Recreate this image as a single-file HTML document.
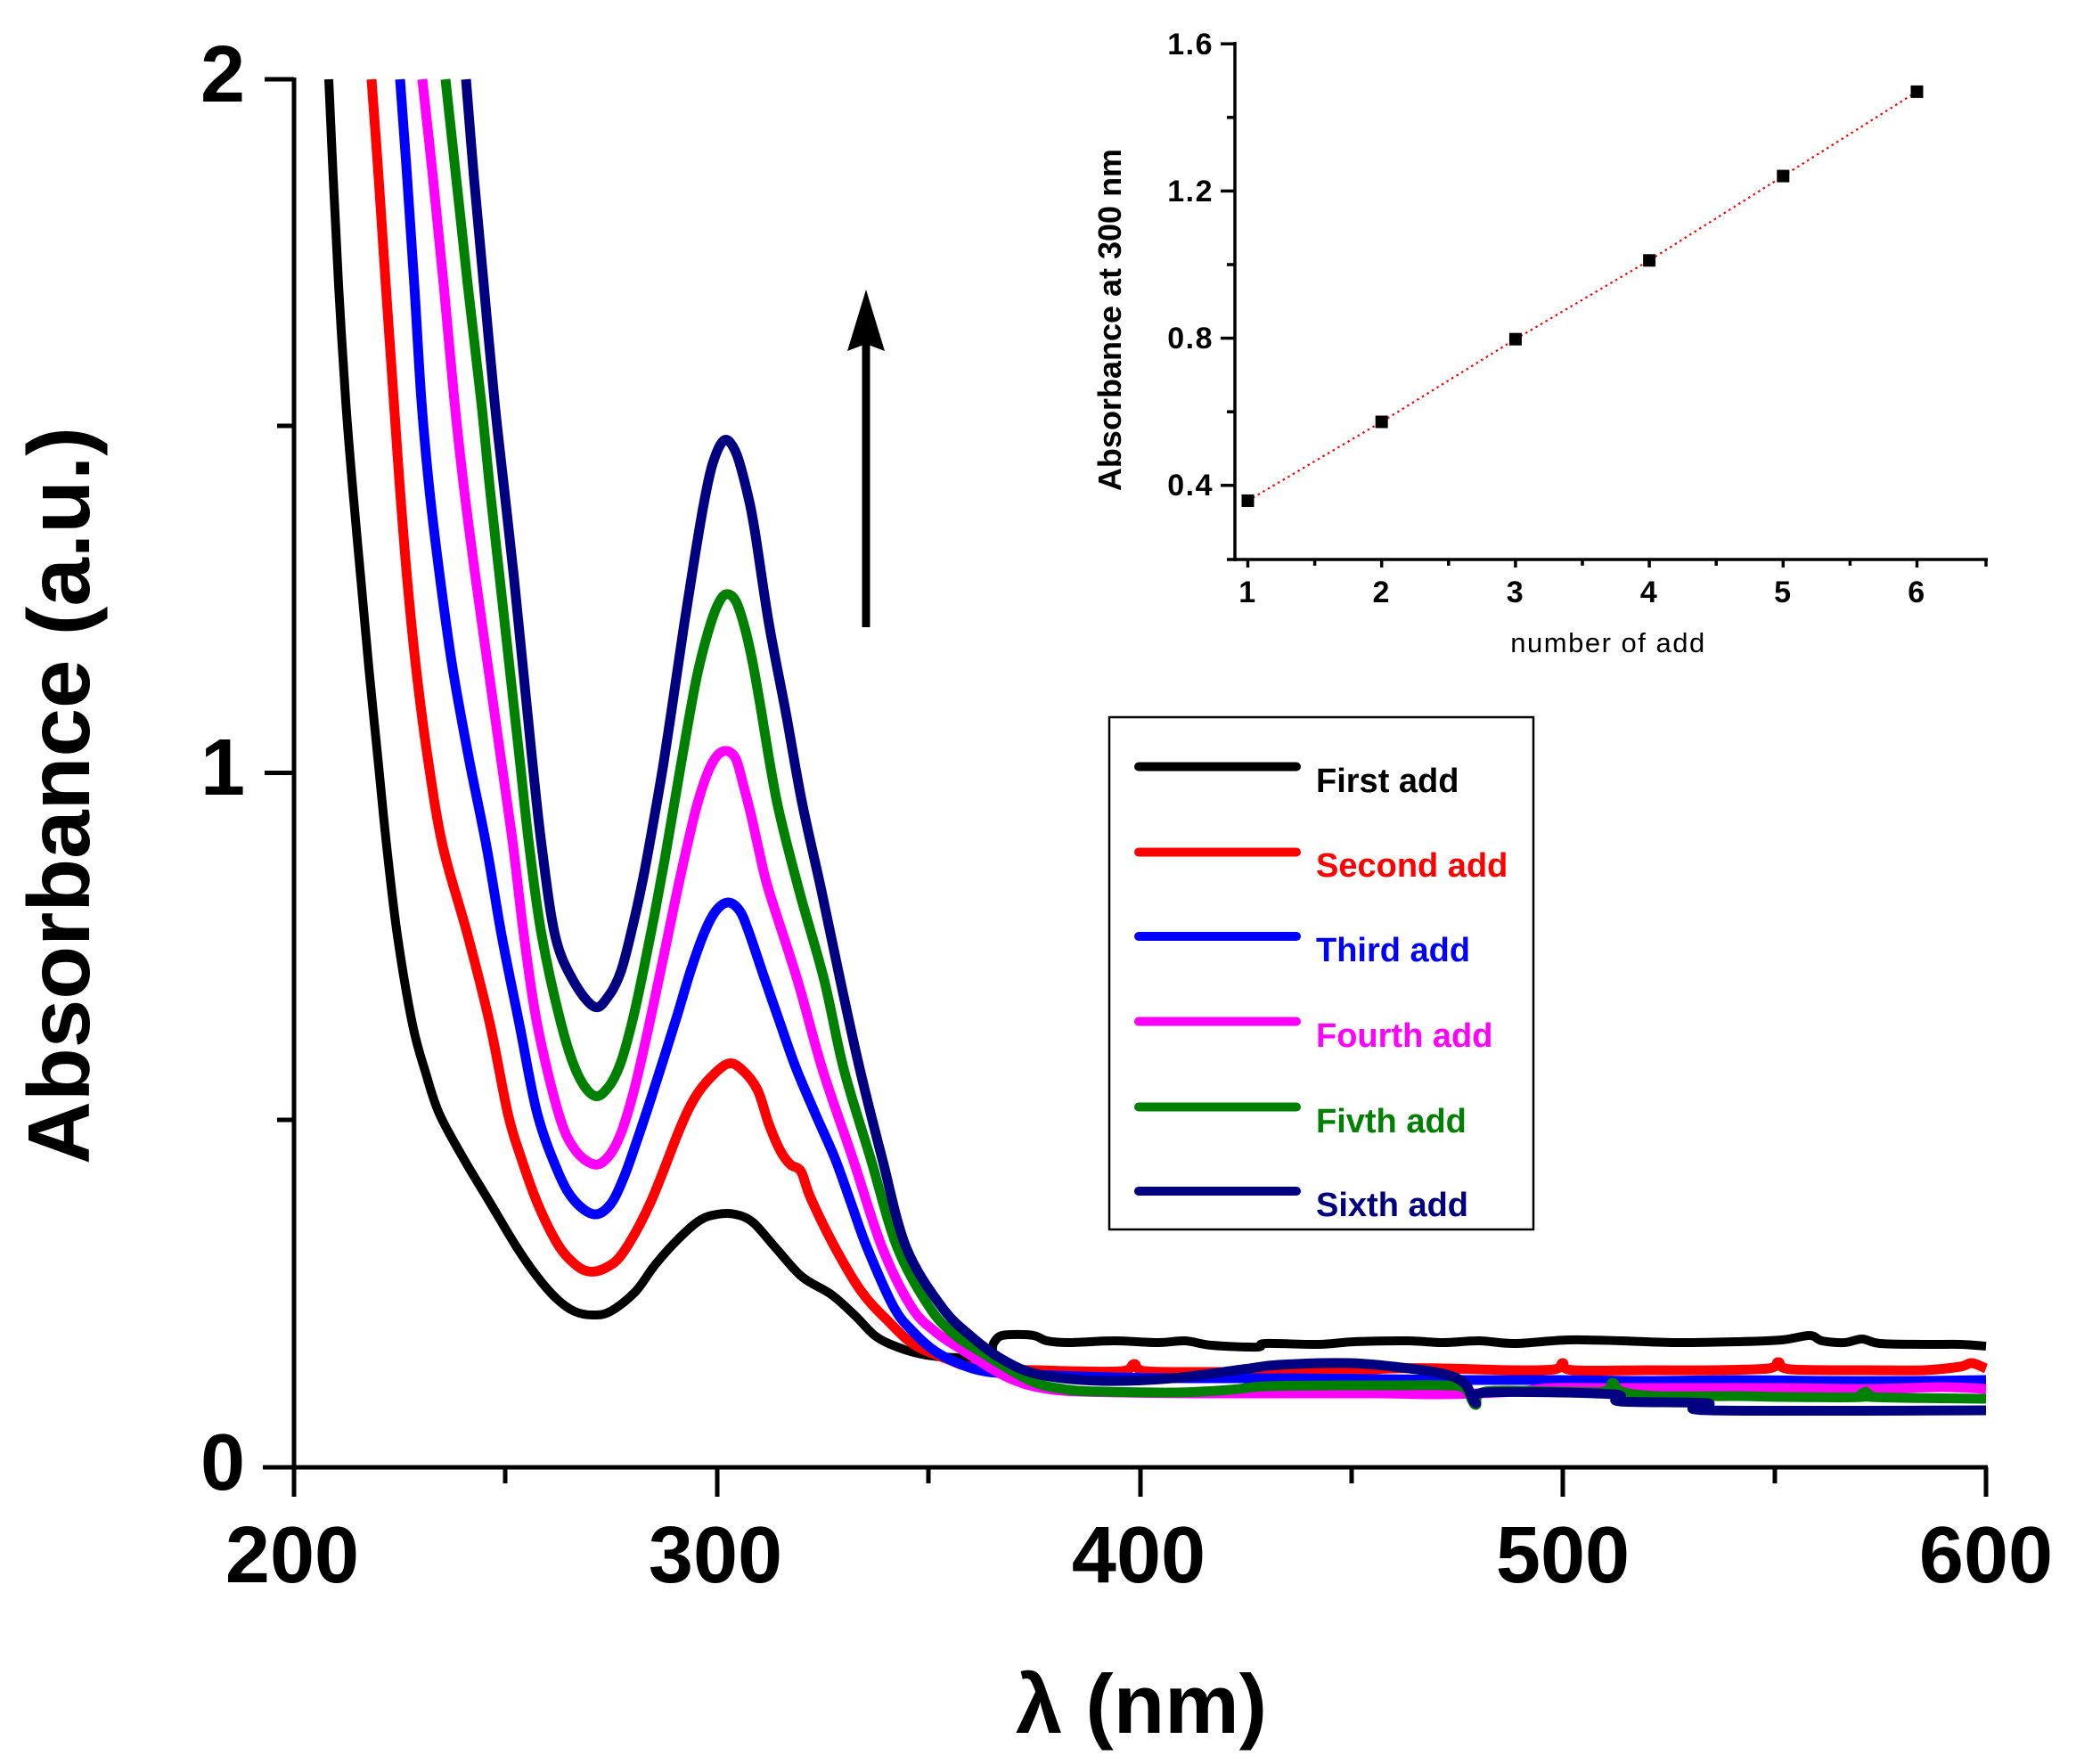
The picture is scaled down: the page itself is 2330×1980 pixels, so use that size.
<!DOCTYPE html>
<html><head><meta charset="utf-8"><style>
html,body{margin:0;padding:0;background:#fff;}
svg{display:block;}
text{font-family:"Liberation Sans",Arial,sans-serif;}
</style></head><body>
<svg id="chart" width="2330" height="1980" viewBox="0 0 2330 1980" xmlns="http://www.w3.org/2000/svg">
<rect width="2330" height="1980" fill="#fff"/>

<!-- curves -->
<g fill="none" stroke-linejoin="round" stroke-linecap="butt">
<polyline class="c" stroke="#000" stroke-width="10" points="369,89 374,200 380,320 388,450 396,550 405,650 414,750 424,850 434,950 446,1050 463,1150 478,1205 493,1250 520,1300 550,1350 580,1400 603,1433 625,1458 645,1472 665,1476 685,1472 713,1450 735,1420 760,1392 785,1370 805,1363 825,1363 845,1372 870,1400 900,1433 933,1453 960,1477 983,1500 1010,1513 1040,1521 1080,1524 1110,1521 1115,1508 1122,1500 1135,1498 1160,1499 1175,1505 1200,1507 1250,1505 1300,1507 1330,1505 1360,1510 1411,1512 1420,1508 1480,1509 1520,1506 1580,1505 1620,1507 1660,1505 1700,1508 1760,1504 1820,1505 1880,1507 1950,1506 2000,1504 2031,1499 2045,1505 2070,1507 2090,1503 2110,1508 2160,1509 2200,1509 2229,1511"/>
<polyline class="c" stroke="#ff0000" stroke-width="11" points="417,89 425,200 433,320 442,450 449,550 457,650 467,750 480,850 497,950 525,1050 550,1150 570,1250 585,1300 603,1350 625,1395 643,1417 660,1427 680,1423 700,1405 730,1350 763,1267 780,1232 797,1210 817,1194 832,1200 850,1223 863,1262 876,1292 887,1307 899,1315 910,1345 937,1400 967,1450 997,1483 1027,1510 1067,1527 1083,1533 1110,1537 1166,1538 1200,1539 1260,1539 1273,1531 1285,1539 1350,1540 1420,1540 1500,1540 1560,1536 1620,1536 1700,1538 1745,1537 1754,1530 1765,1538 1850,1538 1920,1538 1985,1536 1996,1529 2010,1537 2100,1538 2160,1538 2200,1534 2213,1530 2229,1536"/>
<polyline class="c" stroke="#0000ff" stroke-width="11" points="449,89 457,200 465,320 473,450 482,550 494,650 508,750 526,850 546,950 563,1050 583,1150 603,1250 627,1317 645,1348 667,1363 685,1352 700,1322 715,1280 730,1235 745,1188 760,1140 775,1090 790,1048 803,1023 817,1013 830,1022 840,1045 857,1095 875,1147 893,1198 915,1250 937,1300 955,1350 973,1400 1003,1467 1025,1495 1050,1517 1080,1532 1110,1540 1160,1543 1250,1546 1350,1547 1450,1547 1550,1548 1650,1549 1750,1549 1850,1550 1950,1549 2050,1550 2150,1550 2229,1549"/>
<polyline class="c" stroke="#ff00ff" stroke-width="11" points="474,89 486,200 498,320 510,450 521,550 534,650 548,750 562,850 576,950 588,1050 603,1150 627,1250 645,1290 667,1307 683,1298 697,1272 710,1230 722,1180 734,1125 746,1068 758,1010 770,955 782,905 794,868 805,848 816,843 826,852 834,880 843,915 853,960 863,1000 895,1100 923,1200 957,1300 990,1400 1023,1467 1050,1495 1083,1517 1133,1547 1183,1560 1260,1563 1350,1564 1450,1564 1550,1564 1620,1565 1700,1562 1742,1558 1800,1558 1900,1558 2000,1558 2100,1559 2180,1557 2229,1559"/>
<polyline class="c" stroke="#008000" stroke-width="11" points="500,89 512,200 525,320 540,450 550,550 561,650 572,750 583,850 594,950 608,1050 630,1150 648,1205 667,1230 683,1220 697,1192 710,1145 722,1090 734,1030 746,965 758,895 770,825 782,760 794,712 805,680 815,667 826,675 836,705 845,745 853,790 872,900 897,1000 925,1100 947,1200 977,1300 1007,1400 1043,1467 1070,1497 1100,1517 1157,1550 1200,1560 1240,1562 1320,1563 1380,1560 1420,1556 1500,1555 1560,1555 1620,1555 1644,1558 1656,1577 1667,1562 1750,1562 1800,1562 1810,1552 1820,1562 1860,1567 1950,1567 2000,1568 2090,1568 2094,1562 2100,1568 2229,1570"/>
<polyline class="c" stroke="#000080" stroke-width="11" points="523,89 532,200 543,320 555,450 566,550 577,650 587,750 597,850 608,950 623,1050 643,1100 667,1130 683,1118 697,1090 710,1040 722,985 733,925 745,855 757,775 768,700 779,630 790,565 800,520 813,494 826,508 838,550 847,595 863,700 882,800 900,900 922,1000 943,1100 965,1200 990,1300 1017,1400 1057,1467 1090,1500 1127,1527 1167,1543 1237,1550 1316,1547 1395,1537 1435,1532 1514,1530 1573,1535 1620,1542 1644,1553 1656,1575 1667,1563 1810,1565 1818,1573 1916,1575 1920,1583 2229,1583"/>
</g>

<!-- main axes -->
<g stroke="#000" stroke-width="5" fill="none">
<line x1="330" y1="87" x2="330" y2="1649"/>
<line x1="295" y1="1647" x2="2231" y2="1647"/>
<line x1="297" y1="89" x2="330" y2="89"/>
<line x1="297" y1="867.5" x2="330" y2="867.5"/>
<line x1="311" y1="478" x2="330" y2="478"/>
<line x1="311" y1="1257" x2="330" y2="1257"/>
<line x1="330" y1="1647" x2="330" y2="1680"/>
<line x1="805" y1="1647" x2="805" y2="1680"/>
<line x1="1280" y1="1647" x2="1280" y2="1680"/>
<line x1="1754" y1="1647" x2="1754" y2="1680"/>
<line x1="2229" y1="1647" x2="2229" y2="1680"/>
<line x1="567" y1="1647" x2="567" y2="1665"/>
<line x1="1042" y1="1647" x2="1042" y2="1665"/>
<line x1="1517" y1="1647" x2="1517" y2="1665"/>
<line x1="1992" y1="1647" x2="1992" y2="1665"/>
</g>
<g font-size="90" font-weight="bold" fill="#000">
<text x="275" y="114" text-anchor="end">2</text>
<text x="275" y="892" text-anchor="end">1</text>
<text x="275" y="1672" text-anchor="end">0</text>
<text x="328" y="1776" text-anchor="middle">200</text>
<text x="803" y="1776" text-anchor="middle">300</text>
<text x="1278" y="1776" text-anchor="middle">400</text>
<text x="1754" y="1776" text-anchor="middle">500</text>
<text x="2229" y="1776" text-anchor="middle">600</text>
</g>
<text x="1281" y="1945" text-anchor="middle" font-size="94" font-weight="bold">λ (nm)</text>
<text transform="translate(100,893) rotate(-90)" text-anchor="middle" font-size="98" font-weight="bold">Absorbance (a.u.)</text>

<!-- arrow -->
<rect x="967.5" y="384" width="9" height="320" fill="#000"/>
<polygon points="972,325 993,394 972,386 951,394" fill="#000"/>

<!-- legend -->
<rect x="1245" y="805" width="476" height="575" fill="none" stroke="#000" stroke-width="2.5"/>
<g stroke-width="10" stroke-linecap="round">
<line x1="1278" y1="860.5" x2="1455" y2="860.5" stroke="#000"/>
<line x1="1278" y1="956.5" x2="1455" y2="956.5" stroke="#ff0000"/>
<line x1="1278" y1="1051" x2="1455" y2="1051" stroke="#0000ff"/>
<line x1="1278" y1="1146.5" x2="1455" y2="1146.5" stroke="#ff00ff"/>
<line x1="1278" y1="1242.5" x2="1455" y2="1242.5" stroke="#008000"/>
<line x1="1278" y1="1337" x2="1455" y2="1337" stroke="#000080"/>
</g>
<g font-size="38" font-weight="bold">
<text x="1477" y="889" fill="#000">First add</text>
<text x="1477" y="984" fill="#ff0000">Second add</text>
<text x="1477" y="1079" fill="#0000ff">Third add</text>
<text x="1477" y="1175" fill="#ff00ff">Fourth add</text>
<text x="1477" y="1271" fill="#008000">Fivth add</text>
<text x="1477" y="1365" fill="#000080">Sixth add</text>
</g>

<!-- inset -->
<g stroke="#000" stroke-width="3.5" fill="none">
<line x1="1386" y1="47" x2="1386" y2="630"/>
<line x1="1377" y1="628" x2="2231" y2="628"/>
<line x1="1370" y1="49.2" x2="1386" y2="49.2"/>
<line x1="1370" y1="214.4" x2="1386" y2="214.4"/>
<line x1="1370" y1="379.6" x2="1386" y2="379.6"/>
<line x1="1370" y1="544.8" x2="1386" y2="544.8"/>
<line x1="1377" y1="131.8" x2="1386" y2="131.8"/>
<line x1="1377" y1="297" x2="1386" y2="297"/>
<line x1="1377" y1="462.2" x2="1386" y2="462.2"/>
<line x1="1400.5" y1="628" x2="1400.5" y2="637"/>
<line x1="1550.7" y1="628" x2="1550.7" y2="637"/>
<line x1="1700.9" y1="628" x2="1700.9" y2="637"/>
<line x1="1851.1" y1="628" x2="1851.1" y2="637"/>
<line x1="2001.3" y1="628" x2="2001.3" y2="637"/>
<line x1="2151.5" y1="628" x2="2151.5" y2="637"/>
<line x1="1475.6" y1="628" x2="1475.6" y2="635"/>
<line x1="1625.8" y1="628" x2="1625.8" y2="635"/>
<line x1="1776" y1="628" x2="1776" y2="635"/>
<line x1="1926.2" y1="628" x2="1926.2" y2="635"/>
<line x1="2076.4" y1="628" x2="2076.4" y2="635"/>
<line x1="2229" y1="628" x2="2229" y2="636"/>
</g>
<g font-size="34" font-weight="bold" letter-spacing="1.5">
<text x="1362" y="61" text-anchor="end">1.6</text>
<text x="1362" y="226" text-anchor="end">1.2</text>
<text x="1362" y="391" text-anchor="end">0.8</text>
<text x="1362" y="556" text-anchor="end">0.4</text>
<text x="1400.5" y="676" text-anchor="middle">1</text>
<text x="1550.7" y="676" text-anchor="middle">2</text>
<text x="1700.9" y="676" text-anchor="middle">3</text>
<text x="1851.1" y="676" text-anchor="middle">4</text>
<text x="2001.3" y="676" text-anchor="middle">5</text>
<text x="2151.5" y="676" text-anchor="middle">6</text>
</g>
<text x="1805" y="732" text-anchor="middle" font-size="31" letter-spacing="1.5">number of add</text>
<text transform="translate(1258,359) rotate(-90)" text-anchor="middle" font-size="36" font-weight="bold">Absorbance at 300 nm</text>
<polyline points="1400.5,562 1550.7,473.5 1700.9,380.7 1851.1,292.3 2001.3,197.6 2151.5,102.9" fill="none" stroke="#ff0000" stroke-width="2.2" stroke-dasharray="2.5 4"/>
<g fill="#000">
<rect x="1393.5" y="555" width="14" height="14"/>
<rect x="1543.7" y="466.5" width="14" height="14"/>
<rect x="1693.9" y="373.7" width="14" height="14"/>
<rect x="1844.1" y="285.3" width="14" height="14"/>
<rect x="1994.3" y="190.6" width="14" height="14"/>
<rect x="2144.5" y="95.9" width="14" height="14"/>
</g>
</svg>
<script>
(function(){
  var NS='http://www.w3.org/2000/svg';
  var pls=document.querySelectorAll('polyline.c');
  for(var k=0;k<pls.length;k++){
    var pl=pls[k];
    var raw=pl.getAttribute('points').trim().split(/\s+/);
    var pts=[];
    for(var j=0;j<raw.length;j++){var a=raw[j].split(',');pts.push([+a[0],+a[1]]);}
    var d='M'+pts[0][0]+','+pts[0][1];
    var t=1/6;
    for(var i=0;i<pts.length-1;i++){
      var p0=pts[i>0?i-1:i],p1=pts[i],p2=pts[i+1],p3=pts[i+2<pts.length?i+2:i+1];
      var c1x=p1[0]+(p2[0]-p0[0])*t,c1y=p1[1]+(p2[1]-p0[1])*t;
      var c2x=p2[0]-(p3[0]-p1[0])*t,c2y=p2[1]-(p3[1]-p1[1])*t;
      d+=' C'+c1x.toFixed(2)+','+c1y.toFixed(2)+' '+c2x.toFixed(2)+','+c2y.toFixed(2)+' '+p2[0]+','+p2[1];
    }
    var path=document.createElementNS(NS,'path');
    path.setAttribute('d',d);
    path.setAttribute('fill','none');
    path.setAttribute('stroke',pl.getAttribute('stroke'));
    path.setAttribute('stroke-width',pl.getAttribute('stroke-width'));
    path.setAttribute('stroke-linejoin','round');
    pl.parentNode.replaceChild(path,pl);
  }
})();
</script>
</body></html>
